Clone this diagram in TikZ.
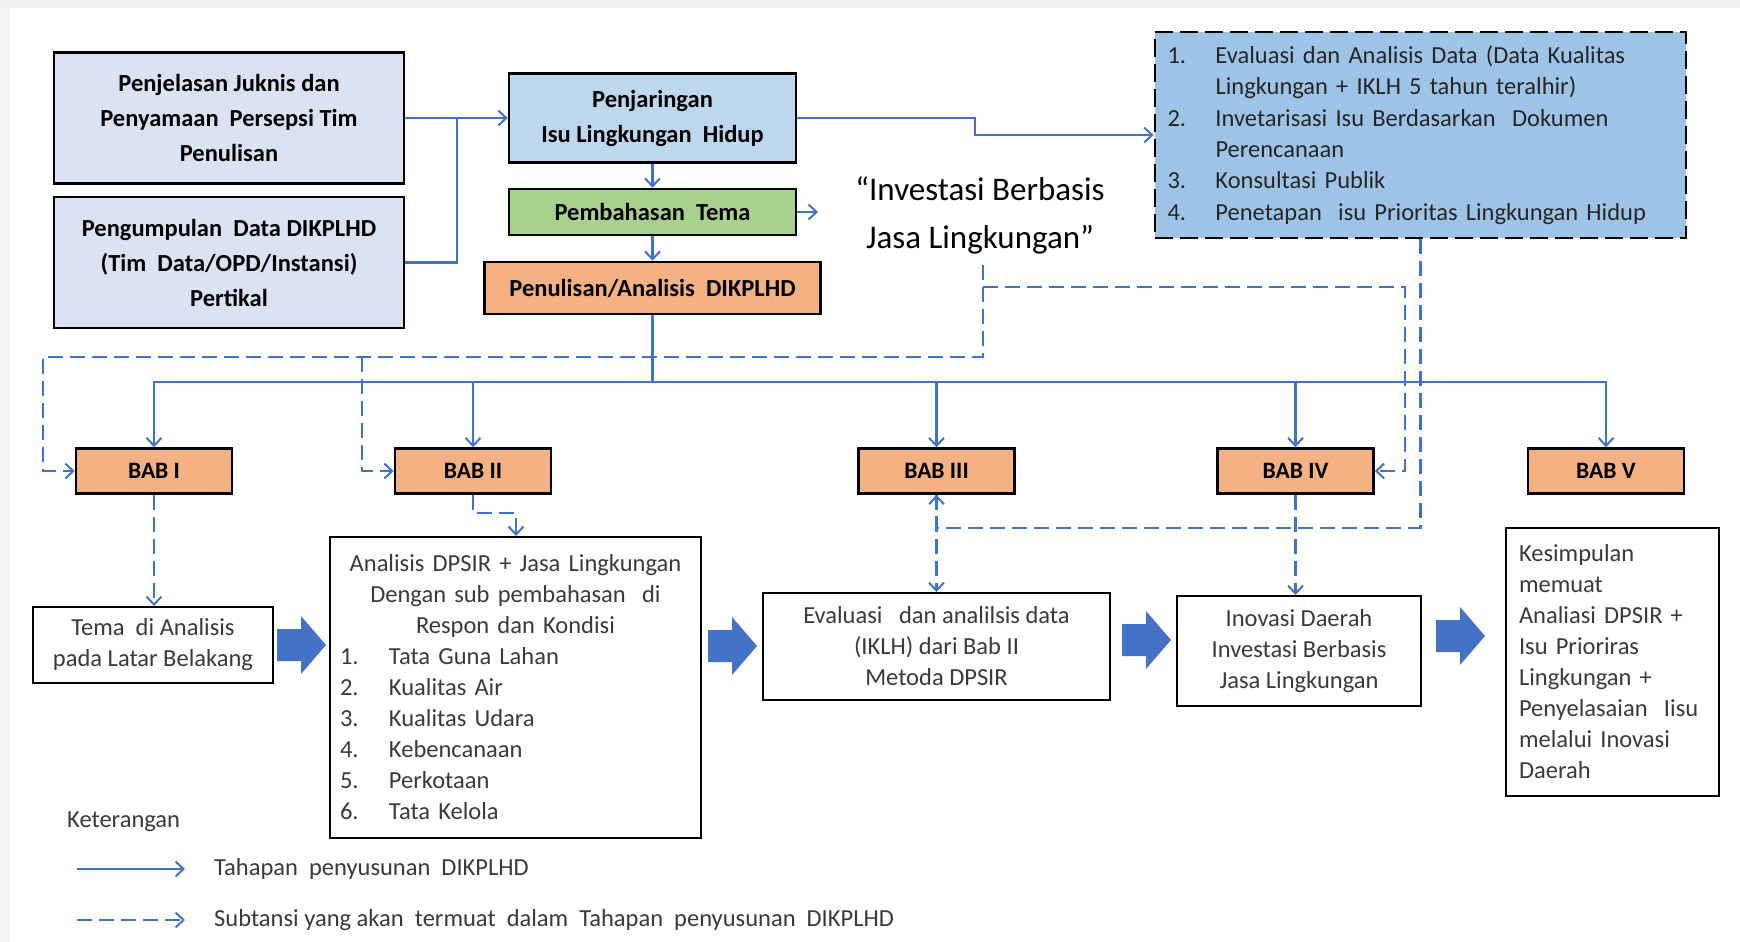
\documentclass[tikz,border=0pt]{standalone}
\usepackage{fontspec}
\setmainfont{Carlito}
\usetikzlibrary{arrows.meta}
\definecolor{fillA}{HTML}{DAE3F3}
\definecolor{fillC}{HTML}{BDD7EE}
\definecolor{fillF}{HTML}{9DC3E6}
\definecolor{fillD}{HTML}{A9D18E}
\definecolor{fillO}{HTML}{F4B183}
\definecolor{lineblue}{HTML}{4472C4}
\definecolor{txtgray}{HTML}{3A3A3A}
\definecolor{txtdark}{HTML}{262626}
\begin{document}
\begin{tikzpicture}[x=1pt,y=-1pt,
  bx/.style={draw=black, line width=2.5pt, inner sep=0pt, align=center, text=black,
    font=\fontsize{24.5}{35}\selectfont\bfseries},
  babbox/.style={bx, fill=fillO, minimum width=156pt, minimum height=45pt,
    font=\fontsize{23.5}{28}\selectfont\bfseries},
  wb/.style={draw=black, line width=2pt, fill=white, inner sep=0pt, text=txtgray,
    font=\fontsize{24.5}{31}\selectfont},
  lg/.style={inner sep=0pt, anchor=west, text=txtgray, font=\fontsize{24.5}{31}\selectfont},
  conn/.style={draw=lineblue, line width=2.2pt},
  arr/.style={conn, -{Straight Barb[length=8pt,width=15pt,line width=2pt]}},
  dsh/.style={draw=lineblue, line width=2.2pt, dash pattern=on 15pt off 7pt},
  darr/.style={dsh, -{Straight Barb[length=8pt,width=15pt,line width=2pt]}},
  barrow/.pic={\fill[lineblue] (-24,-16) -- (0,-16) -- (0,-29) -- (25,0) -- (0,29) -- (0,16) -- (-24,16) -- cycle;}
]
\useasboundingbox (0,0) rectangle (1740,942);
\fill[white] (0,0) rectangle (1740,942);
\fill[gray!12] (0,0) rectangle (1740,8);
\fill[gray!8] (0,8) rectangle (10,942);

% top boxes
\node[bx, fill=fillA, minimum width=350pt, minimum height=131pt] (A) at (229,118)
  {Penjelasan Juknis dan\\Penyamaan\ \ Persepsi Tim\\Penulisan};
\node[bx, fill=fillA, minimum width=350pt, minimum height=131pt] (B) at (229,262.5)
  {Pengumpulan\ \ Data DIKPLHD\\(Tim\ \ Data/OPD/Instansi)\\Pertikal};
\node[bx, fill=fillC, minimum width=287pt, minimum height=89pt] (C) at (652.5,118)
  {Penjaringan\\Isu Lingkungan\ \ Hidup};
\node[bx, fill=fillD, minimum width=287pt, minimum height=46pt] (D) at (652.5,212)
  {Pembahasan\ \ Tema};
\node[bx, fill=fillO, minimum width=336pt, minimum height=52pt] (E) at (652.5,288)
  {Penulisan/Analisis\ \ DIKPLHD};

\node[draw=black, line width=2.8pt, dash pattern=on 18pt off 7pt, fill=fillF,
  minimum width=531pt, minimum height=206pt, inner sep=0pt, text width=506pt,
  align=left, text=txtdark, font=\fontsize{24.5}{31.4}\selectfont] (F) at (1420.5,135)
  {\makebox[48pt][l]{1.}Evaluasi dan Analisis Data (Data Kualitas\\
   \hspace*{48pt}Lingkungan + IKLH 5 tahun teralhir)\\
   \makebox[48pt][l]{2.}Invetarisasi Isu Berdasarkan\ \ Dokumen\\
   \hspace*{48pt}Perencanaan\\
   \makebox[48pt][l]{3.}Konsultasi Publik\\
   \makebox[48pt][l]{4.}Penetapan\ \ isu Prioritas Lingkungan Hidup};

\node[inner sep=0pt, align=center, text=black, font=\fontsize{33}{48}\selectfont] (G) at (980,215)
  {“Investasi Berbasis\\Jasa Lingkungan”};

% BAB boxes
\node[babbox] (b1) at (154,471) {BAB I};
\node[babbox] (b2) at (473,471) {BAB II};
\node[babbox] (b3) at (936.5,471) {BAB III};
\node[babbox] (b4) at (1295.5,471) {BAB IV};
\node[babbox] (b5) at (1606,471) {BAB V};

% bottom boxes
\node[wb, minimum width=240pt, minimum height=76pt, align=center] (tema) at (153,645)
  {Tema\ \ di Analisis\\pada Latar Belakang};
\node[wb, minimum width=371pt, minimum height=301pt, text width=351pt, align=left] (ana) at (515.5,687.5)
  {\makebox[351pt][c]{Analisis DPSIR + Jasa Lingkungan}\\
   \makebox[351pt][c]{Dengan sub pembahasan\ \ di}\\
   \makebox[351pt][c]{Respon dan Kondisi}\\
   \makebox[49pt][l]{1.}Tata Guna Lahan\\
   \makebox[49pt][l]{2.}Kualitas Air\\
   \makebox[49pt][l]{3.}Kualitas Udara\\
   \makebox[49pt][l]{4.}Kebencanaan\\
   \makebox[49pt][l]{5.}Perkotaan\\
   \makebox[49pt][l]{6.}Tata Kelola};
\node[wb, minimum width=347pt, minimum height=107pt, align=center] (eval) at (936.5,646.5)
  {Evaluasi\ \ \ dan analilsis data\\(IKLH) dari Bab II\\Metoda DPSIR};
\node[wb, minimum width=244pt, minimum height=110pt, align=center] (inov) at (1299,651)
  {Inovasi Daerah\\Investasi Berbasis\\Jasa Lingkungan};
\node[wb, minimum width=213pt, minimum height=268pt, text width=187pt, align=left] (kes) at (1612.5,662)
  {Kesimpulan\\memuat\\Analiasi DPSIR +\\Isu Prioriras\\Lingkungan +\\Penyelasaian\ \ Iisu\\melalui Inovasi\\Daerah};

% block arrows
\pic at (301,645) {barrow};
\pic at (732,646) {barrow};
\pic at (1146,640) {barrow};
\pic at (1460,636) {barrow};

% solid connectors
\coordinate (j) at (457,118);
\draw[arr] (A.east) -- (C.west);
\draw[conn] (B.east) -| (j);
\coordinate (k) at (975,118);
\draw[arr] (C.east) -- (k) |- (F.west);
\draw[arr] (C.south) -- (D.north);
\draw[arr] (D.south) -- (E.north);
\coordinate (d1) at (818,212);
\draw[arr] (D.east) -- (d1);
\coordinate (bus) at (652.5,382);
\draw[conn, line width=3pt] (E.south) -- (bus);
\foreach \b in {b1,b2,b3,b4,b5} \draw[arr] (bus) -| (\b.north);

% dashed connectors
\coordinate (g1) at (983,265);
\coordinate (g2) at (1405,287);
\coordinate (g3) at (43,357);
\coordinate (g4) at (362,357);
\draw[darr] (g1) |- (g2) |- (b4.east);
\draw[darr] (g1) |- (g3) |- (b1.west);
\draw[darr] (g4) |- (b2.west);
\coordinate (m) at (936.5,528);
\draw[darr] (F.south) |- (m) -- (b3.south);
\draw[darr] (b3.south) -- (eval.north);
\draw[darr] (b4.south) -- (b4.south |- inov.north);
\draw[darr] (b1.south) -- (b1.south |- tema.north);
\coordinate (n2) at (516,513);
\draw[darr] (b2.south) |- (n2) -- (n2 |- ana.north);

% legend
\node[lg] (ket) at (67,822) {Keterangan};
\coordinate (l1a) at (77,869);
\coordinate (l1b) at (185,869);
\draw[arr] (l1a) -- (l1b);
\node[lg] (lt1) at (214,869) {Tahapan\ \ penyusunan\ \ DIKPLHD};
\coordinate (l2a) at (77,920);
\coordinate (l2b) at (185,920);
\draw[darr] (l2a) -- (l2b);
\node[lg] (lt2) at (214,920) {Subtansi yang akan\ \ termuat\ \ dalam\ \ Tahapan\ \ penyusunan\ \ DIKPLHD};
\end{tikzpicture}
\end{document}
